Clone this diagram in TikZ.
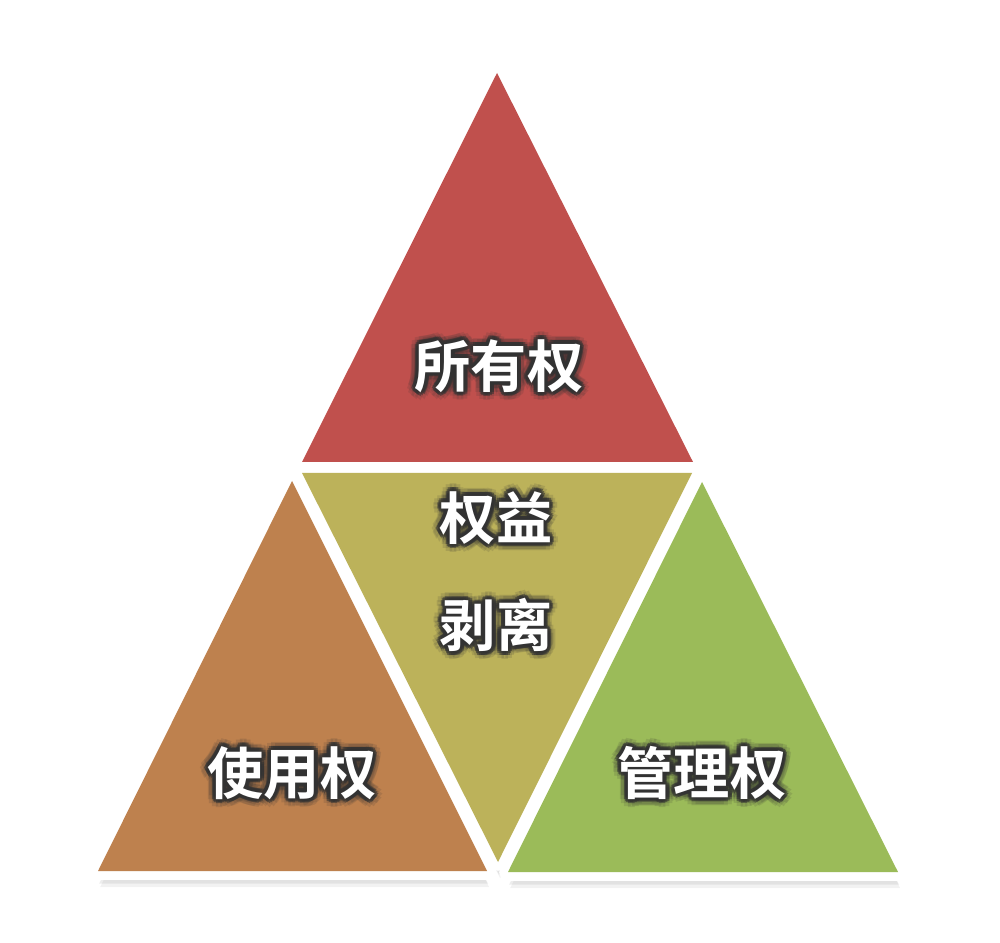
\documentclass[tikz,border=0pt]{standalone}
\usepackage{fontspec}
\usetikzlibrary{shadows,calc}
\newfontfamily\cjk{Noto Sans CJK SC}[UprightFont={* Bold}]
\definecolor{ownred}{RGB}{192,80,77}
\definecolor{useorange}{RGB}{190,129,78}
\definecolor{splitolive}{RGB}{188,178,90}
\definecolor{mgmtgreen}{RGB}{155,187,89}
\definecolor{halogray}{RGB}{50,50,50}
\tikzset{
  rim/.style={draw=white, fill=white, line width=5pt, line join=round,
    drop shadow={opacity=0.1, shadow xshift=0.6pt, shadow yshift=-4.6pt},
    drop shadow={opacity=0.14, shadow xshift=0.3pt, shadow yshift=-3.6pt}},
  lbl/.style={text=white, inner sep=0pt, font=\cjk\fontsize{16pt}{19pt}\selectfont},
  halo/.style={text=halogray, inner sep=0pt, font=\cjk\fontsize{16pt}{19pt}\selectfont},
}
\newcommand\glowlabel[3]{%
  \foreach \a in {0,30,...,330} {
    \node[halo, opacity=0.14] at ($(#2)+(\a:8)$) {#3};
    \node[halo, opacity=0.55] at ($(#2)+(\a:4)$) {#3};
  }
  \node[lbl] (#1) at (#2) {#3};
}
\begin{document}
\begin{tikzpicture}[x=0.01cm,y=-0.01cm]
		\useasboundingbox (0,0) rectangle (1000,943);
		% white rims
		\draw[rim] (497,73) -- (302,462) -- (693,462) -- cycle;
		\draw[rim] (302,473) -- (692,473) -- (498,862) -- cycle;
		\draw[rim] (292,481) -- (98,871) -- (487,871) -- cycle;
		\draw[rim] (702,482) -- (508,872) -- (898,872) -- cycle;
		% coloured faces
		\fill[ownred] (497,73) -- (302,462) -- (693,462) -- cycle;
		\fill[splitolive] (302,473) -- (692,473) -- (498,862) -- cycle;
		\fill[useorange] (292,481) -- (98,871) -- (487,871) -- cycle;
		\fill[mgmtgreen] (702,482) -- (508,872) -- (898,872) -- cycle;
		\glowlabel{own}{499,366}{所有权}
		\glowlabel{rights}{496,518}{权益}
		\glowlabel{split}{496,625}{剥离}
		\glowlabel{use}{292,773}{使用权}
		\glowlabel{mgmt}{702,773}{管理权}
\end{tikzpicture}
\end{document}
